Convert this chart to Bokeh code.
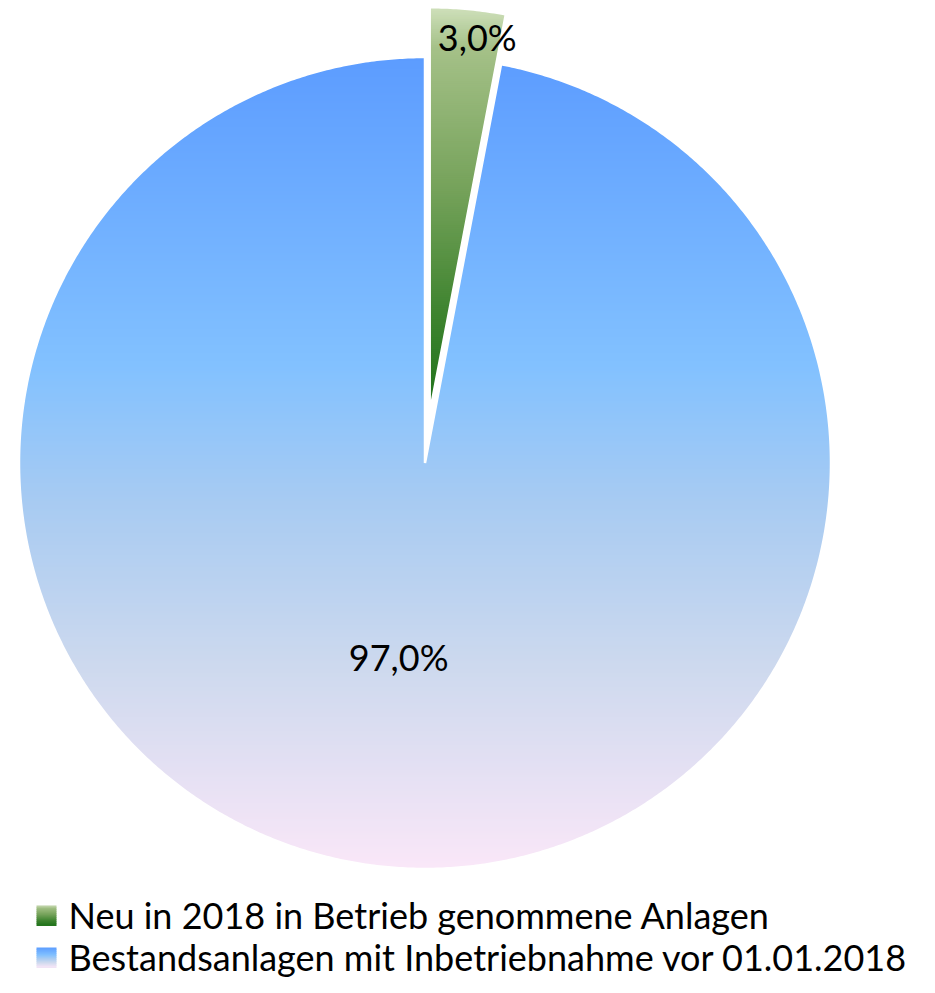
import numpy as np
from bokeh.plotting import figure
from bokeh.models import Range1d
from bokeh.core.properties import value
from bokeh.embed import file_html
from bokeh.resources import INLINE

# ---- data ----
categories = ["Neu in 2018 in Betrieb genommene Anlagen",
              "Bestandsanlagen mit Inbetriebnahme vor 01.01.2018"]
shares = [3.0, 97.0]
labels = ["3,0%", "97,0%"]

# ---- style ----
explode = [50.0, 0.0]          # px offset along bisector
gradients = [
    [(0.0, "#cfe0bb"), (0.10, "#a5c188"), (0.45, "#75a25a"), (0.75, "#3f8430"), (1.0, "#1e721a")],
    [(0.0, "#5c9cff"), (0.38, "#82c1ff"), (0.55, "#a8cbf2"), (0.75, "#cdd9ee"), (1.0, "#fae7f8")],
]
label_radius = [0.93, 0.48]
label_dx = [12, -8]
FONT = "Lato"

W, H = 919, 977
CX, CY, R = 424.5, 462.5, 406.0


def hex2rgb(h):
    h = h.lstrip("#")
    return np.array([int(h[i:i + 2], 16) for i in (0, 2, 4)], dtype=float)


def interp(stops, t):
    t = min(max(t, 0.0), 1.0)
    for (t0, c0), (t1, c1) in zip(stops[:-1], stops[1:]):
        if t <= t1:
            f = 0 if t1 == t0 else (t - t0) / (t1 - t0)
            c = hex2rgb(c0) * (1 - f) + hex2rgb(c1) * f
            return "#%02x%02x%02x" % tuple(int(round(v)) for v in c)
    return stops[-1][1]


def clip_half(pts, yv, keep_above):
    out = []
    n = len(pts)
    for i in range(n):
        p, q = pts[i], pts[(i + 1) % n]
        ip = (p[1] >= yv) if keep_above else (p[1] <= yv)
        iq = (q[1] >= yv) if keep_above else (q[1] <= yv)
        if ip:
            out.append(p)
        if ip != iq:
            f = (yv - p[1]) / (q[1] - p[1])
            out.append((p[0] + f * (q[0] - p[0]), yv))
    return out


def clip_strip(pts, y0, y1):
    r = clip_half(pts, y0, True)
    if not r:
        return r
    return clip_half(r, y1, False)


def wedge_pts(cx, cy, r, a0, a1):
    n = max(4, int(abs(a1 - a0) / 0.4))
    angs = np.radians(np.linspace(a0, a1, n))
    pts = [(cx, cy)]
    pts += [(cx + r * np.sin(a), cy - r * np.cos(a)) for a in angs]
    return pts


p = figure(width=W, height=H, output_backend="svg", toolbar_location=None,
           x_range=Range1d(0, W), y_range=Range1d(H, 0),
           min_border=0, outline_line_color=None)
p.axis.visible = False
p.grid.visible = False
p.background_fill_color = "white"
p.border_fill_color = "white"

total = sum(shares)
start = 0.0
polys = []
for i, s in enumerate(shares):
    span = 360.0 * s / total
    mid = start + span / 2
    ox = explode[i] * np.sin(np.radians(mid))
    oy = -explode[i] * np.cos(np.radians(mid))
    cx, cy = CX + ox, CY + oy
    pts = wedge_pts(cx, cy, R, start, start + span)
    polys.append((pts, cx, cy, mid))
    start += span

# draw blue (larger) first, then green
for i in [1, 0]:
    pts, cx, cy, mid = polys[i]
    ys_all = [q[1] for q in pts]
    ymin, ymax = min(ys_all), max(ys_all)
    step = 2.0
    nb = int(np.ceil((ymax - ymin) / step))
    bx, by, bc = [], [], []
    for k in range(nb):
        y0 = ymin + k * step
        y1 = min(y0 + step + 0.8, ymax)
        c = clip_strip(pts, y0, y1)
        if len(c) < 3:
            continue
        bx.append([q[0] for q in c])
        by.append([q[1] for q in c])
        bc.append(interp(gradients[i], (y0 + step / 2 - ymin) / (ymax - ymin)))
    p.patches(bx, by, fill_color=bc, line_color=None)
    p.patch([q[0] for q in pts], [q[1] for q in pts], fill_color=None,
            line_color="white", line_width=2.5, line_join="miter")

# labels
for i, (pts, cx, cy, mid) in enumerate(polys):
    lr = label_radius[i] * R
    lx = cx + lr * np.sin(np.radians(mid)) + label_dx[i]
    ly = cy - lr * np.cos(np.radians(mid))
    p.text([lx], [ly], text=[labels[i]], text_align="center", text_baseline="middle",
           text_font=value(FONT), text_font_size="36px", text_color="#000000")

# legend
leg_x, leg_mid, leg_step, sq = 36, 914, 42, 20
for i, cat in enumerate(categories):
    mid_y = leg_mid + i * leg_step
    y0 = mid_y + 1 - sq / 2
    nb = 10
    for k in range(nb):
        p.quad(left=[leg_x], right=[leg_x + sq], top=[y0 + k * sq / nb],
               bottom=[y0 + (k + 1) * sq / nb + 0.5],
               fill_color=interp(gradients[i], (k + 0.5) / nb), line_color=None)
    p.text([leg_x + sq + 12], [mid_y], text=[cat], text_align="left",
           text_baseline="middle", text_font=value(FONT), text_font_size="36px",
           text_color="#000000")

open("out.html", "w").write(file_html(p, INLINE))
